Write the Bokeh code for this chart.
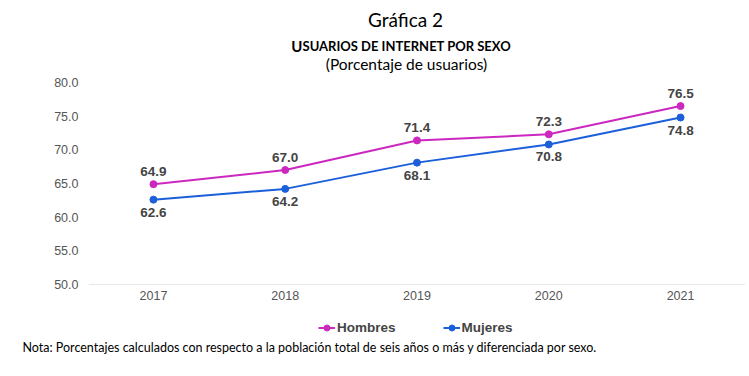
from bokeh.plotting import figure
from bokeh.layouts import column
from bokeh.models import (ColumnDataSource, Range1d, FixedTicker, Legend, LegendItem,
                          LabelSet, CustomJSTickFormatter)
from bokeh.core.properties import value
from bokeh.embed import file_html
from bokeh.resources import INLINE

years = [2017, 2018, 2019, 2020, 2021]
hombres = [64.9, 67.0, 71.4, 72.3, 76.5]
mujeres = [62.6, 64.2, 68.1, 70.8, 74.8]
y_ticks = [50, 55, 60, 65, 70, 75, 80]
series_names = ["Hombres", "Mujeres"]
colors = ["#cc27bf", "#1c5fdb"]

title1 = "Gráfica 2"
title2_first = "U"
title2_rest = "SUARIOS DE INTERNET POR SEXO"
subtitle = "(Porcentaje de usuarios)"
note = "Nota: Porcentajes calculados con respecto a la población total de seis años o más y diferenciada por sexo."

W = 749
TOP_H, MAIN_H, BOT_H = 74, 234, 68
NAN = float("nan")


def blank(height, y_top):
    # a figure whose frame fills the canvas; y runs downward in page pixels
    f = figure(width=W, height=height, output_backend="svg", toolbar_location=None,
               x_range=Range1d(0, W), y_range=Range1d(y_top + height, y_top),
               x_axis_type=None, y_axis_type=None, frame_align=False,
               min_border=0, min_border_left=0, min_border_right=0,
               min_border_top=0, min_border_bottom=0)
    f.outline_line_color = None
    f.grid.grid_line_color = None
    f.background_fill_color = "white"
    f.border_fill_color = "white"
    return f


# ---- titles ----
top = blank(TOP_H, 0)
top.text(x=[405], y=[19], text=[title1], text_font=value("Lato"), text_font_size="19px",
         text_align="center", text_baseline="middle", text_color="#000000")
top.text(x=[302], y=[45], text=[title2_first], text_font=value("Lato"), text_font_size="15px",
         text_font_style="bold", text_align="right", text_baseline="alphabetic",
         text_color="#000000")
top.text(x=[302], y=[45], text=[title2_rest], text_font=value("Lato"), text_font_size="13px",
         text_font_style="bold", text_align="left", text_baseline="alphabetic",
         text_color="#000000")
top.text(x=[406], y=[63], text=[subtitle], text_font=value("Lato"), text_font_size="15.5px",
         text_align="center", text_baseline="middle", text_color="#000000")

# ---- main chart ----
X0, X1 = 2016.507, 2021.493
Y0, Y1 = 49.70, 81.19

p = figure(width=W, height=MAIN_H, output_backend="svg", toolbar_location=None,
           x_range=Range1d(X0, X1), y_range=Range1d(Y0, Y1), frame_align=False,
           min_border_left=88, min_border_right=4, min_border_top=0, min_border_bottom=22)
p.outline_line_color = None
p.background_fill_color = "white"
p.border_fill_color = "white"

p.xaxis.ticker = FixedTicker(ticks=years)
p.yaxis.ticker = FixedTicker(ticks=y_ticks)
p.yaxis.formatter = CustomJSTickFormatter(code="return tick.toFixed(1);")
for ax in (p.xaxis[0], p.yaxis[0]):
    ax.axis_line_color = None
    ax.major_tick_line_color = None
    ax.minor_tick_line_color = None
    ax.major_tick_out = 0
    ax.major_tick_in = 0
    ax.major_label_text_font = "Liberation Sans"
    ax.major_label_text_font_size = "12.5px"
    ax.major_label_text_color = "#555555"
p.yaxis.major_label_standoff = 10
p.xaxis.major_label_standoff = 4
p.xgrid.grid_line_color = None
p.ygrid.ticker = FixedTicker(ticks=[50])
p.ygrid.grid_line_color = "#e8e8e8"

src = ColumnDataSource(dict(x=years, h=hombres, m=mujeres,
                            hl=[f"{v:.1f}" for v in hombres],
                            ml=[f"{v:.1f}" for v in mujeres]))

p.line("x", "h", source=src, line_color=colors[0], line_width=2)
p.scatter("x", "h", source=src, size=7, fill_color=colors[0], line_color=colors[0])
p.line("x", "m", source=src, line_color=colors[1], line_width=2)
p.scatter("x", "m", source=src, size=7, fill_color=colors[1], line_color=colors[1])

lab_kw = dict(text_font=value("Liberation Sans"), text_font_size=value("13.5px"),
              text_font_style="bold", text_color="#444444", text_align="center")
p.add_layout(LabelSet(x="x", y="h", text="hl", source=src, y_offset=8,
                      text_baseline="bottom", **lab_kw))
p.add_layout(LabelSet(x="x", y="m", text="ml", source=src, y_offset=-8,
                      text_baseline="top", **lab_kw))

# ---- legend + note ----
bot = blank(BOT_H, TOP_H + MAIN_H)
lh = bot.line(x=[NAN], y=[NAN], line_color=colors[0], line_width=2)
sh = bot.scatter(x=[NAN], y=[NAN], size=7, fill_color=colors[0], line_color=colors[0])
lm = bot.line(x=[NAN], y=[NAN], line_color=colors[1], line_width=2)
sm = bot.scatter(x=[NAN], y=[NAN], size=7, fill_color=colors[1], line_color=colors[1])
legend = Legend(items=[LegendItem(label=series_names[0], renderers=[lh, sh]),
                       LegendItem(label=series_names[1], renderers=[lm, sm])],
                orientation="horizontal", location=(318, 41),
                glyph_width=17, glyph_height=15, label_standoff=2, spacing=47,
                padding=0, margin=0, border_line_color=None, background_fill_alpha=0,
                label_text_font="Liberation Sans", label_text_font_size="13.5px",
                label_text_font_style="bold", label_text_color="#444444")
bot.add_layout(legend, "center")
bot.text(x=[22], y=[347], text=[note], text_font=value("Lato"), text_font_size="12.5px",
         text_align="left", text_baseline="middle", text_color="#000000")

layout = column(top, p, bot, spacing=0)
open("out.html", "w").write(file_html(layout, INLINE))
